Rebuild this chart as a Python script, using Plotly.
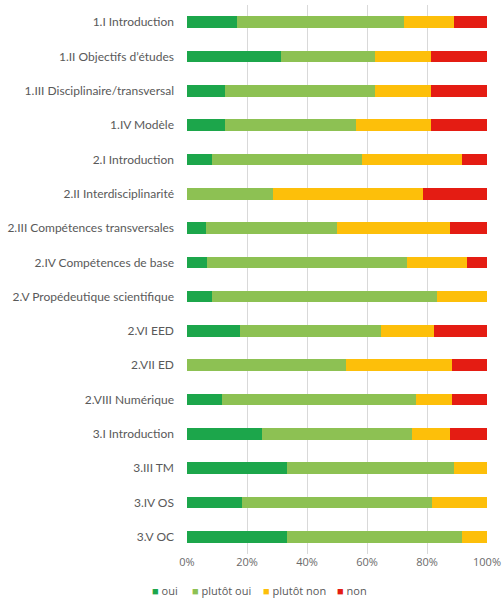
import plotly.graph_objects as go

categories = [
    "1.I Introduction", "1.II Objectifs d’études", "1.III Disciplinaire/transversal",
    "1.IV Modèle", "2.I Introduction", "2.II Interdisciplinarité",
    "2.III Compétences transversales", "2.IV Compétences de base",
    "2.V Propédeutique scientifique", "2.VI EED", "2.VII ED", "2.VIII Numérique",
    "3.I Introduction", "3.III TM", "3.IV OS", "3.V OC",
]
oui = [16.7, 31.25, 12.5, 12.5, 8.3, 0, 6.25, 6.7, 8.3, 17.6, 0, 11.8, 25.0, 33.3, 18.2, 33.3]
plutot_oui = [55.6, 31.25, 50.0, 43.75, 50.0, 28.6, 43.75, 66.7, 75.0, 47.1, 52.9, 64.7, 50.0, 55.6, 63.6, 58.3]
plutot_non = [16.7, 18.75, 18.75, 25.0, 33.3, 50.0, 37.5, 20.0, 16.7, 17.6, 35.3, 11.8, 12.5, 11.1, 18.2, 8.3]
non = [11.1, 18.75, 18.75, 18.75, 8.3, 21.4, 12.5, 6.7, 0, 17.6, 11.8, 11.8, 12.5, 0, 0, 0]

series_names = ["oui", "plutôt oui", "plutôt non", "non"]
series_values = [oui, plutot_oui, plutot_non, non]
series_colors = ["#1ca64b", "#8dc153", "#fdbf0a", "#e41c13"]

FONT = "Open Sans, Lato, sans-serif"
TXT = "#595959"

fig = go.Figure()
for name, vals, color in zip(series_names, series_values, series_colors):
    fig.add_trace(go.Bar(
        y=categories, x=vals, name=name, orientation="h",
        marker=dict(color=color, line=dict(width=0)),
        showlegend=False,
    ))

# legend drawn as text entries below the axis
legend_x_px = [150, 190, 261, 335]
plot_l, plot_w, plot_t, plot_h = 187, 300, 5, 549
legend_y_px = 590
for name, color, px in zip(series_names, series_colors, legend_x_px):
    fig.add_annotation(
        xref="paper", yref="paper",
        x=(px - plot_l) / plot_w, y=(plot_t + plot_h - legend_y_px) / plot_h,
        xanchor="left", yanchor="middle", showarrow=False,
        text=f'<span style="color:{color}">■</span> {name}',
        font=dict(family=FONT, size=11, color=TXT),
    )

fig.update_layout(
    barmode="stack", barnorm="percent",
    bargap=0.66,
    width=504, height=606,
    margin=dict(l=plot_l, r=504 - plot_l - plot_w, t=plot_t, b=606 - plot_t - plot_h,
                autoexpand=False),
    paper_bgcolor="white", plot_bgcolor="white",
    font=dict(family=FONT, size=11, color=TXT),
    xaxis=dict(
        range=[0, 100], tickvals=[0, 20, 40, 60, 80, 100],
        ticktext=["0%", "20%", "40%", "60%", "80%", "100%"],
        showgrid=True, gridcolor="#d9d9d9", gridwidth=1,
        zeroline=False, showline=False, ticks="", automargin=False,
        tickfont=dict(size=11, color="#6a6a6a"),
    ),
    yaxis=dict(
        categoryorder="array", categoryarray=categories, autorange="reversed",
        showgrid=False, ticks="", ticklabelstandoff=12, automargin=False,
        tickfont=dict(family="Lato, Open Sans, sans-serif", size=12, color=TXT),
    ),
    showlegend=False,
)

fig.write_html("out.html", config={"displayModeBar": False},
               post_script="document.body.style.margin='0';")
